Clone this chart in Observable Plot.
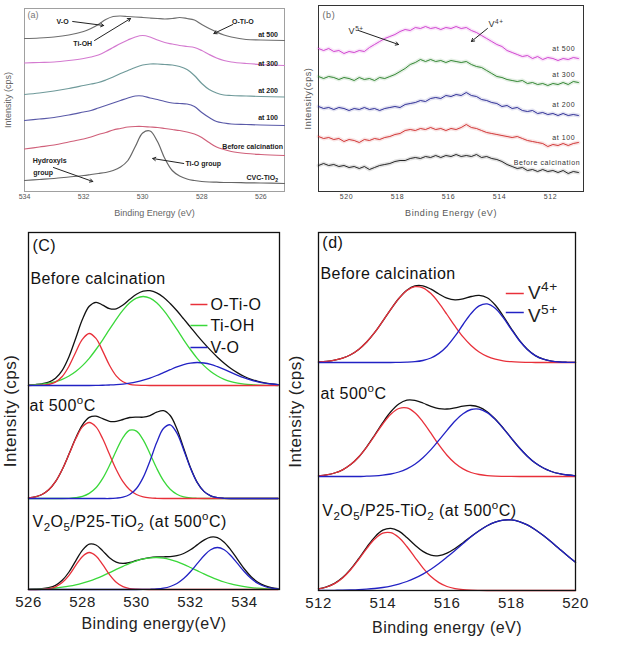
<!DOCTYPE html>
<html><head><meta charset="utf-8">
<script src="https://cdn.jsdelivr.net/npm/d3@7"></script>
<script src="https://cdn.jsdelivr.net/npm/@observablehq/plot@0.6"></script>
<style>
body{margin:0;background:#fff;}
#fig{position:relative;width:620px;height:646px;background:#fff;overflow:hidden;}
.pb text{letter-spacing:0.6px;}
.pc text,.pd text{letter-spacing:0.45px;}
</style></head><body><div id="fig"></div>
<script>
// ---------- Panel (a): O 1s spectra ----------
const aEnergy = [534,533.5,533,532.5,532,531.75,531.5,531.25,531,530.75,530.5,530.25,530,529.75,529.5,529.25,529,528.75,528.5,528.25,528,527.75,527.5,527.25,527,526.5,526,525.2];
const aNames = ["at 500","at 300","at 200","at 100","Before calcination","CVC-TiO2"];
const a500 = [153,153.5,154.5,156.5,160,163,167,172,175,175.5,175,174.5,174,173.5,173,172.5,173,174,173,171.5,167,163,159.5,156.5,154.5,152,151.5,151];
const a300 = [128.5,129,129.5,131,133,134.5,136.5,140,144,148,151.5,154.5,156,154.5,151.5,149,147.5,146,145,144,141,137,133.5,131,129.5,128,127,126];
const a200 = [97,98.5,100.5,103,106,107.5,109,111.5,114.5,118,121,124,126.5,127.5,127.5,127,126.5,125,122,116,108,102,98.5,96.5,96,95.5,95,94.5];
const a100 = [71,72.5,74,76.5,79.5,81,83.5,86,88.5,91,93.5,95.5,95.5,93.5,92,90,88.5,88,87.5,85,79,74,70,68.5,67.5,67,66.5,66];
const aBefore = [42.5,44.5,46.5,49.5,52.5,54.5,57,59,61.5,63,64.5,65,65,64.5,64,63,62,61,59.5,57.5,54,49,44.5,42,40,38,37,36];
const aCVC = [11,12,13,14.5,16,17,18,19,21,24.5,31,45,58.5,60.5,50,33,21,15.5,12.5,11,10,9.5,9.3,9,9,8.7,8.5,8];
const aTicks = [534,532,530,528,526];
const aNotes = [
  {x:532.71,y:170,text:"V-O"},{x:532.03,y:148,text:"Ti-OH"},{x:526.61,y:170,text:"O-Ti-O"},
  {x:533.15,y:31,text:"Hydroxyls"},{x:533.37,y:19,text:"group"},{x:527.95,y:28,text:"Ti-O group"}
];
const aArrows = [
  {x1:532.37,y1:170,x2:531.32,y2:166},{x1:531.63,y1:151,x2:530.41,y2:173},
  {x1:526.95,y1:167,x2:527.59,y2:158},{x1:533.02,y1:24,x2:531.69,y2:10},
  {x1:528.61,y1:28,x2:529.66,y2:33}
];
const aTags = [
  {x:525.42,y:157,text:"at 500"},{x:525.42,y:128,text:"at 300"},{x:525.42,y:101,text:"at 200"},
  {x:525.42,y:74,text:"at 100"},{x:525.25,y:45,text:"Before calcination"},{x:525.42,y:14,text:"CVC-TiO_2"}
];

// ---------- Panel (b): V 2p spectra ----------
const bEnergy = [521.1,520.9,520.7,520.5,520.3,520.1,519.9,519.7,519.5,519.3,519.1,518.9,518.7,518.5,518.3,518.1,517.9,517.7,517.5,517.3,517.1,516.9,516.7,516.5,516.3,516.1,515.9,515.7,515.5,515.3,515.1,514.9,514.7,514.5,514.3,514.1,513.9,513.7,513.5,513.3,513.1,512.9,512.7,512.5,512.3,512.1,511.9,511.7,511.5,511.3,511.1,510.9];
const bNames = ["at 500","at 300","at 200","at 100","Before calcination"];
const b500 = [143,141,143,140,141,138,140,139,141,140,144,147,150,153,155,157,160,162,161,164,163,165,163,164,162,164,163,165,163,164,161,159,156,153,150,147,145,141,139,137,135,136,133,135,132,134,133,131,133,132,134,133];
const b300 = [115,113,115,114,112,114,113,111,114,112,113,111,114,113,115,117,120,123,127,129,132,130,132,130,131,129,131,130,129,130,127,125,124,121,118,115,114,112,111,110,111,108,109,107,108,106,108,107,109,107,110,109];
const b200 = [85,83,84,82,84,83,81,83,82,84,82,83,81,83,84,85,84,87,88,89,91,90,93,94,93,96,95,97,96,99,96,95,92,91,89,88,85,86,83,84,81,80,81,78,79,77,78,76,78,76,77,76];
const b100 = [55,53,54,52,53,50,52,51,49,52,51,53,52,54,55,57,58,61,62,61,63,62,64,62,63,61,63,62,64,67,64,63,61,59,58,57,56,55,54,55,53,51,50,49,48,45,47,46,48,46,48,49];
const bBefore = [26,28,26,27,25,26,24,25,23,25,22,24,26,27,28,30,31,31,33,34,33,35,34,36,34,36,35,37,35,36,35,37,34,35,33,32,30,27,25,23,24,21,22,20,22,20,21,19,21,18,20,19];
const bTicks = [520,518,516,514,512];
const bNotes = [{x:519.92,y:160,text:"V^{5+}"},{x:514.43,y:167,text:"V^{4+}"}];
const bArrows = [{x1:519.53,y1:161,x2:517.96,y2:147},{x1:514.47,y1:163,x2:515.1,y2:150}];
const bTags = [
  {x:511.02,y:143,text:"at 500"},{x:511.02,y:117,text:"at 300"},{x:511.02,y:87,text:"at 200"},
  {x:511.02,y:54,text:"at 100"},{x:510.83,y:29,text:"Before calcination"}
];

// ---------- Panel (C): O 1s peak fits ----------
const cEnergy = [526,526.25,526.5,526.75,527,527.25,527.5,527.75,528,528.25,528.5,528.75,529,529.25,529.5,529.75,530,530.25,530.5,530.75,531,531.25,531.5,531.75,532,532.25,532.5,532.75,533,533.25,533.5,533.75,534,534.25,534.5,534.75,535,535.25];
const cComponents = ["total","O-Ti-O","Ti-OH","V-O"];
const cBeforeTotal = [0.4,0.9,1.7,3.4,7.3,15.2,28.8,47.3,66.2,79.2,83.2,80.4,76.9,76.7,80.5,86.2,91.3,94.4,94.8,92.7,88.3,82.0,74.7,66.6,58.4,50.2,42.4,35.1,28.3,22.3,17.0,12.6,9.0,6.2,4.1,2.6,1.6,0.9];
const cBeforeOTiO = [0,0.1,0.3,1.0,3.4,9.0,19.3,33.3,46.3,52,47.1,34.4,20.3,9.7,3.7,1.2,0.3,0.1,0,0,0,0,0,0,0,0,0,0,0,0,0,0,0,0,0,0,0,0];
const cBeforeTiOH = [0.4,0.8,1.4,2.4,3.9,6.2,9.5,14.0,19.9,27.2,36.0,45.7,56.1,66.2,75.4,82.7,87.4,89,87.4,82.7,75.4,66.2,56.1,45.7,36.0,27.2,19.9,14.0,9.5,6.2,3.9,2.4,1.4,0.8,0.4,0.2,0.1,0];
const cBeforeVO = [0,0,0,0,0,0,0,0,0,0,0.1,0.25,0.5,0.84,1.4,2.3,3.6,5.3,7.4,10.0,12.9,15.8,18.6,20.9,22.4,23.0,22.5,21.1,18.8,16.1,13.1,10.2,7.6,5.4,3.7,2.4,1.5,0.9];
const c500Total = [0.6,1.6,4.0,8.7,16.8,29.0,44.4,60.5,73.7,81.1,82.3,79.8,77.2,77.2,79.0,81.0,81.4,81.3,82.9,86.3,87.9,83.0,69.6,50.3,31.0,16.2,7.1,2.6,0.8,0.2,0,0,0,0,0,0,0,0];
const c500OTiO = [0.6,1.6,4.0,8.7,16.8,29.0,44.2,59.7,71.6,76,71.6,59.7,44.2,29.0,16.8,8.7,4.0,1.6,0.6,0.2,0,0,0,0,0,0,0,0,0,0,0,0,0,0,0,0,0,0];
const c500TiOH = [0,0,0,0,0,0,0.2,0.8,2.1,5.1,10.7,20.1,33.0,47.8,60.9,68.3,67.4,58.6,44.8,30.2,17.9,9.3,4.3,1.7,0.6,0.2,0,0,0,0,0,0,0,0,0,0,0,0];
const c500VO = [0,0,0,0,0,0,0,0,0,0,0,0,0,0.4,1.3,4.0,10.0,21.1,37.5,55.9,70.0,73.7,65.3,48.6,30.4,16.0,7.1,2.6,0.8,0.2,0,0,0,0,0,0,0,0];
const cP25Total = [0.2,0.4,0.8,1.9,4.2,9.2,17.5,28.7,39.4,45.4,44.5,38.6,31.8,27.4,26.1,27.1,29.0,30.7,31.9,32.5,32.7,32.9,33.8,36.0,39.7,44.6,49.4,52.4,51.9,47.3,39.4,29.9,20.5,12.8,7.3,3.8,1.8,0.8];
const cP25OTiO = [0,0,0.2,0.85,2.7,6.9,14.2,24.1,33.1,37,33.6,24.9,15.0,7.3,2.9,0.9,0.25,0.05,0,0,0,0,0,0,0,0,0,0,0,0,0,0,0,0,0,0,0,0];
const cP25TiOH = [0.2,0.4,0.6,1.0,1.5,2.3,3.3,4.6,6.3,8.4,10.9,13.7,16.8,20.1,23.2,26.2,28.7,30.6,31.7,32.0,31.4,29.9,27.8,25.1,22.0,18.8,15.6,12.6,9.9,7.5,5.6,4.1,2.8,1.9,1.3,0.8,0.5,0.3];
const cP25VO = [0,0,0,0,0,0,0,0,0,0,0,0,0,0,0,0,0,0.05,0.2,0.5,1.3,3.0,6.0,10.9,17.7,25.8,33.8,39.8,42,39.8,33.8,25.8,17.7,10.9,6.0,3.0,1.3,0.5];
const cTicks = [526,528,530,532,534];
const cNotes = [
  {x:526.15,y:344,text:"(C)"},{x:526.07,y:311,text:"Before calcination"},
  {x:526.04,y:184,text:"at 500^oC"},{x:526.15,y:68,text:"V_2O_5/P25-TiO_2 (at 500^oC)"}
];
const cLegend = [{name:"O-Ti-O",y:285},{name:"Ti-OH",y:264},{name:"V-O",y:242}];

// ---------- Panel (d): V 2p peak fits ----------
const dEnergy = [512,512.25,512.5,512.75,513,513.25,513.5,513.75,514,514.25,514.5,514.75,515,515.25,515.5,515.75,516,516.25,516.5,516.75,517,517.25,517.5,517.75,518,518.25,518.5,518.75,519,519.25,519.5,519.75,520];
const dComponents = ["total","V4+","V5+"];
const dBeforeTotal = [0.5,1.1,2.3,4.4,7.8,13.1,20.5,30.1,41.4,53.2,64.0,72.3,76.6,76.7,73.4,68.5,64.3,62.6,63.6,66.0,67.1,64.7,57.5,46.5,34.0,22.4,13.3,6.9,3.3,1.4,0.5,0.2,0.05];
const dBeforeV4 = [0.5,1.1,2.3,4.4,7.8,13.1,20.5,30.1,41.4,53.2,63.9,72.0,75.8,74.7,68.9,59.4,48.0,36.3,25.6,17.0,10.5,6.1,3.3,1.7,0.8,0.35,0.15,0,0,0,0,0,0];
const dBeforeV5 = [0,0,0,0,0,0,0,0,0,0,0.1,0.3,0.8,2.0,4.5,9.1,16.3,26.3,38.0,49.0,56.6,58.6,54.2,44.8,33.2,22.0,13.1,6.9,3.3,1.4,0.5,0.2,0.05];
const d500Total = [0.7,1.7,3.5,6.7,11.9,19.5,29.7,41.5,53.8,64.7,72.5,76.3,76.1,73.5,70.2,67.9,67.5,68.7,70.4,71.0,69.4,64.8,57.5,48.4,38.4,28.7,20.3,13.5,8.5,5.0,2.8,1.5,0.7];
const d500V4 = [0.7,1.7,3.5,6.7,11.9,19.5,29.4,40.9,52.5,62.2,68.0,68.6,63.8,54.7,43.3,31.6,21.3,13.2,7.6,4.0,2.0,0.9,0.35,0.15,0.05,0,0,0,0,0,0,0,0];
const d500V5 = [0,0,0,0,0,0,0.3,0.6,1.3,2.5,4.5,7.7,12.3,18.8,26.9,36.3,46.2,55.5,62.8,67.0,67.4,63.9,57.1,48.2,38.3,28.7,20.3,13.5,8.5,5.0,2.8,1.5,0.7];
const dP25Total = [1.65,3.6,7.1,12.9,21.3,31.8,43.2,53.4,60.3,62.2,59.4,53.0,45.5,39.1,35.3,34.9,37.4,42.0,47.8,54.0,59.8,64.8,68.4,70.4,70.6,68.9,65.6,60.8,54.9,48.4,41.5,34.7,28.2];
const dP25V4 = [1.6,3.5,6.9,12.6,20.8,31.0,41.9,51.4,57.3,57.8,53.0,44.0,33.2,22.7,14.0,7.9,4.0,1.9,0.8,0.3,0.1,0,0,0,0,0,0,0,0,0,0,0,0];
const dP25V5 = [0.05,0.1,0.2,0.3,0.5,0.8,1.3,2.0,3.0,4.4,6.4,9.0,12.3,16.4,21.3,27.0,33.4,40.1,47.0,53.7,59.7,64.8,68.4,70.4,70.6,68.9,65.6,60.8,54.9,48.4,41.5,34.7,28.2];
const dTicks = [512,514,516,518,520];
const dNotes = [
  {x:512.12,y:348,text:"(d)"},{x:512.06,y:317,text:"Before calcination"},
  {x:512.06,y:197,text:"at 500^oC"},{x:512.12,y:80,text:"V_2O_5/P25-TiO_2 (at 500^oC)"}
];
const dLegend = [{name:"V4+",label:"V^{4+}",y:297,ty:298},{name:"V5+",label:"V^{5+}",y:278,ty:275}];

// ---------- helpers ----------
const FONT = '"Liberation Sans", Arial, Helvetica, sans-serif';
const fig = document.getElementById("fig");
function seriesRows(energy, values, offset, series, comp) {
  return values.map((v, i) => ({x: energy[i], y: v + offset, series, comp}));
}
function richify(root) {
  const ns = "http://www.w3.org/2000/svg";
  root.querySelectorAll("text").forEach(t => {
    const s = t.textContent;
    if (!/[_^]/.test(s)) return;
    const base = parseFloat(getComputedStyle(t).fontSize) || 12;
    t.textContent = "";
    const re = /([_^])(?:\{([^}]*)\}|(.))/g;
    let last = 0, cur = 0, m;
    const add = (str, shift, small) => {
      if (!str) return;
      const ts = document.createElementNS(ns, "tspan");
      const dy = shift - cur;
      if (dy) ts.setAttribute("dy", dy);
      if (small) ts.setAttribute("font-size", base * 0.72);
      ts.textContent = str;
      t.appendChild(ts);
      cur = shift;
    };
    while ((m = re.exec(s))) {
      add(s.slice(last, m.index), 0, false);
      const content = m[2] !== undefined ? m[2] : m[3];
      add(content, m[1] === "_" ? base * 0.3 : -base * 0.42, true);
      last = re.lastIndex;
    }
    add(s.slice(last), 0, false);
  });
}
function place(svg, left, top) {
  svg.style.position = "absolute";
  svg.style.left = left + "px";
  svg.style.top = top + "px";
  fig.appendChild(svg);
  richify(svg);
}
const baseStyle = {fontFamily: FONT, background: "transparent", overflow: "visible"};

// ---------- (a) ----------
const aValues = [a500, a300, a200, a100, aBefore, aCVC];
const aRows = aNames.flatMap((n, k) => seriesRows(aEnergy, aValues[k], 0, n, n));
const plotA = Plot.plot({
  width: 300, height: 222, marginLeft: 24, marginRight: 16, marginTop: 8, marginBottom: 31,
  style: baseStyle,
  x: {domain: [534, 525.2]},
  y: {domain: [0, 183], axis: null},
  color: {domain: aNames, range: ["#6e6e6e", "#d47ad0", "#6f9a9a", "#5a5aa8", "#d0607a", "#666666"]},
  marks: [
    Plot.frame({stroke: "#a0a0a0"}),
    Plot.axisX({ticks: aTicks, tickSize: 0, tickPadding: 3, fontSize: 7, fill: "#555", label: null}),
    Plot.line(aRows, {x: "x", y: "y", z: "series", stroke: "series", strokeWidth: 1.2, curve: "catmull-rom"}),
    Plot.arrow(aArrows, {x1: "x1", y1: "y1", x2: "x2", y2: "y2", stroke: "#222", strokeWidth: 1, headLength: 5}),
    Plot.text(aNotes, {x: "x", y: "y", text: "text", fontSize: 7, fontWeight: "bold", fill: "#222"}),
    Plot.text(aTags, {x: "x", y: "y", text: "text", textAnchor: "end", fontSize: 7, fontWeight: "bold", fill: "#222"}),
    Plot.text(["(a)"], {text: d => d, frameAnchor: "top-left", dx: 3, dy: 7, lineAnchor: "middle", textAnchor: "start", fontSize: 9, fill: "#777"}),
    Plot.text(["Binding Energy (eV)"], {text: d => d, frameAnchor: "bottom", dy: 22, lineAnchor: "middle", textAnchor: "middle", fontSize: 9, fill: "#666"}),
    Plot.text(["Intensity (cps)"], {text: d => d, frameAnchor: "left", dx: -16, rotate: -90, lineAnchor: "middle", textAnchor: "middle", fontSize: 9, fill: "#666"})
  ]
});
place(plotA, 0, 0);

// ---------- (b) ----------
const bValues = [b500, b300, b200, b100, bBefore];
const bRows = bNames.flatMap((n, k) => seriesRows(bEnergy, bValues[k], 0, n, n));
const bColors = ["#cc33cc", "#1f7a1f", "#1c1c8c", "#cc2222", "#111111"];
const plotB = Plot.plot({
  className: "pb",
  width: 330, height: 222, marginLeft: 28, marginRight: 37, marginTop: 5, marginBottom: 31,
  style: baseStyle,
  x: {domain: [521.1, 510.7]},
  y: {domain: [0, 186], axis: null},
  color: {domain: bNames, range: bColors},
  marks: [
    Plot.frame({stroke: "#333"}),
    Plot.axisX({ticks: bTicks, tickSize: 0, tickPadding: 3, fontSize: 7, fill: "#444", label: null}),
    Plot.line(bRows, {x: "x", y: "y", z: "series", stroke: "series", strokeWidth: 4, strokeOpacity: 0.12}),
    Plot.line(bRows, {x: "x", y: "y", z: "series", stroke: "series", strokeWidth: 0.9}),
    Plot.arrow(bArrows, {x1: "x1", y1: "y1", x2: "x2", y2: "y2", stroke: "#222", strokeWidth: 1, headLength: 5}),
    Plot.text(bNotes, {x: "x", y: "y", text: "text", textAnchor: "start", fontSize: 9, fill: "#333"}),
    Plot.text(bTags, {x: "x", y: "y", text: "text", textAnchor: "end", fontSize: 7, fill: "#333"}),
    Plot.text(["(b)"], {text: d => d, frameAnchor: "top-left", dx: 4, dy: 10, lineAnchor: "middle", textAnchor: "start", fontSize: 9, fill: "#666"}),
    Plot.text(["Binding Energy (eV)"], {text: d => d, frameAnchor: "bottom", dy: 22, lineAnchor: "middle", textAnchor: "middle", fontSize: 9, fill: "#555"}),
    Plot.text(["Intensity(cps)"], {text: d => d, frameAnchor: "left", dx: -10, rotate: -90, lineAnchor: "middle", textAnchor: "middle", fontSize: 9, fill: "#555"})
  ]
});
place(plotB, 290, 0);

// ---------- (C) ----------
const cOffsets = [204, 91, 0];
const cSets = [
  [cBeforeTotal, cBeforeOTiO, cBeforeTiOH, cBeforeVO],
  [c500Total, c500OTiO, c500TiOH, c500VO],
  [cP25Total, cP25OTiO, cP25TiOH, cP25VO]
];
const cDrawOrder = [0, 2, 1, 3];
const cRows = cDrawOrder.flatMap(k => cSets.flatMap((set, s) =>
  seriesRows(cEnergy, set[k], cOffsets[s], cComponents[k] + s, cComponents[k])));
const cColorRange = ["#111111", "#e8303a", "#3ad83a", "#2222c4"];
const plotC = Plot.plot({
  className: "pc",
  width: 300, height: 421, marginLeft: 28, marginRight: 21, marginTop: 7, marginBottom: 57,
  style: baseStyle,
  x: {domain: [526, 535.3]},
  y: {domain: [0, 357], axis: null},
  color: {domain: cComponents, range: cColorRange},
  marks: [
    Plot.line(cRows, {x: "x", y: "y", z: "series", stroke: "comp", strokeWidth: 1.3, curve: "catmull-rom"}),
    Plot.frame({stroke: "#111", strokeWidth: 1.3}),
    Plot.axisX({ticks: cTicks, tickSize: 0, tickPadding: 7, fontSize: 15, fill: "#222", label: null}),
    Plot.text(cNotes, {x: "x", y: "y", text: "text", textAnchor: "start", fontSize: 16, fill: "#111"}),
    Plot.link(cLegend, {x1: 532.0, x2: 532.63, y1: "y", y2: "y", stroke: "name", strokeWidth: 1.5}),
    Plot.text(cLegend, {x: 532.74, y: "y", text: "name", textAnchor: "start", fontSize: 16, fill: "#111"}),
    Plot.text(["Binding energy(eV)"], {text: d => d, frameAnchor: "bottom", dy: 34, lineAnchor: "middle", textAnchor: "middle", fontSize: 16, fill: "#222"}),
    Plot.text(["Intensity (cps)"], {text: d => d, frameAnchor: "left", dx: -18, rotate: -90, lineAnchor: "middle", textAnchor: "middle", fontSize: 17, fill: "#222"})
  ]
});
place(plotC, 0, 225);

// ---------- (d) ----------
const dOffsets = [228, 114, 0];
const dSets = [
  [dBeforeTotal, dBeforeV4, dBeforeV5],
  [d500Total, d500V4, d500V5],
  [dP25Total, dP25V4, dP25V5]
];
const dRows = [0, 1, 2].flatMap(k => dSets.flatMap((set, s) =>
  seriesRows(dEnergy, set[k], dOffsets[s], dComponents[k] + s, dComponents[k])));
const plotD = Plot.plot({
  className: "pd",
  width: 335, height: 421, marginLeft: 33, marginRight: 45, marginTop: 7, marginBottom: 56,
  style: baseStyle,
  x: {domain: [512, 520]},
  y: {domain: [0, 358], axis: null},
  color: {domain: dComponents, range: ["#111111", "#e8303a", "#2222c4"]},
  marks: [
    Plot.line(dRows, {x: "x", y: "y", z: "series", stroke: "comp", strokeWidth: 1.3, curve: "catmull-rom"}),
    Plot.frame({stroke: "#111", strokeWidth: 1.3}),
    Plot.axisX({ticks: dTicks, tickSize: 0, tickPadding: 7, fontSize: 15, fill: "#222", label: null}),
    Plot.text(dNotes, {x: "x", y: "y", text: "text", textAnchor: "start", fontSize: 16, fill: "#111"}),
    Plot.link(dLegend, {x1: 517.83, x2: 518.39, y1: "y", y2: "y", stroke: "name", strokeWidth: 1.5}),
    Plot.text(dLegend, {x: 518.52, y: "ty", text: "label", textAnchor: "start", fontSize: 19, fill: "#222"}),
    Plot.text(["Binding energy (eV)"], {text: d => d, frameAnchor: "bottom", dy: 37, lineAnchor: "middle", textAnchor: "middle", fontSize: 16, fill: "#222"}),
    Plot.text(["Intensity (cps)"], {text: d => d, frameAnchor: "left", dx: -23, rotate: -90, lineAnchor: "middle", textAnchor: "middle", fontSize: 17, fill: "#222"})
  ]
});
place(plotD, 285, 225);
</script></body></html>
